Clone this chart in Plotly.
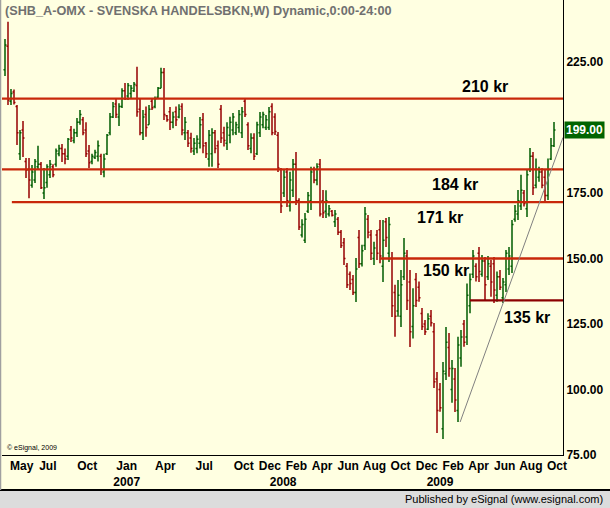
import pandas as pd
import plotly.graph_objects as go

# ---------------- data ----------------
start_date = "2006-03-31"
n_weeks = 184

opens = [222, 231, 210, 213.5, 208, 190, 199, 187, 184, 178, 180, 185, 186, 175, 179, 182, 185, 186, 190, 192,
         190, 189, 199, 195, 198, 202, 203, 199, 191, 187, 188.5, 189, 189, 183, 190, 198, 204, 209, 204, 208,
         214, 212, 213, 214, 216, 207, 198, 205, 201, 210, 208, 211.5, 215, 221, 204.5, 206, 202, 206, 204, 208,
         198, 198, 196, 191, 192, 194, 203, 194, 188, 190, 198, 193, 207, 198, 194, 197, 199, 198, 200, 198,
         210, 201, 192, 196, 190, 198, 201, 200, 200, 208, 204, 197, 184, 175, 183, 170, 176, 186, 172, 159,
         157, 168, 172, 184, 180, 186, 172, 168, 167, 168, 164, 165, 160, 156, 147, 144, 142, 137, 158, 148,
         155, 165, 159, 150, 159, 161, 147, 164, 152, 150, 137, 130, 128, 143, 151, 141, 124, 142, 139, 129,
         125, 123, 128, 122, 104, 100, 85, 106, 116, 100, 104, 92, 112, 125, 120, 132, 144, 147, 152, 144,
         149, 143, 147, 148, 136, 143, 135, 140, 146, 147, 165, 167, 170, 175, 169, 184, 189, 178, 181, 183,
         181, 174, 188, 193]
highs = [233.8, 240.4, 214.7, 214.5, 208.6, 199, 202.5, 188.4, 188.4, 185.7, 188, 193, 186.8, 184.5, 186, 187.6, 186, 192, 193.4, 193.7,
         192, 196, 200.6, 199.5, 203.6, 206.7, 204, 202, 193.3, 190, 191.5, 195, 190, 190, 197.5, 205.5, 209.7, 211.3, 209.3, 215,
         217, 217, 216.2, 217.4, 223.2, 211, 206.7, 208, 208.6, 211.3, 211.8, 215.5, 222.8, 222.7, 204.8, 207.8, 206, 208, 208.9, 209.3,
         204, 199, 198, 196, 197, 204, 205.5, 194.5, 199, 199.7, 199, 195, 208.6, 200.3, 202, 204.1, 205.5, 202.2, 206.7, 207.8,
         210.9, 202, 197.8, 197.8, 202.2, 205.9, 206, 204.8, 207.8, 209.3, 205.4, 198.3, 184.5, 183.8, 184.5, 183.1, 188, 190.6, 173, 165,
         167.4, 175.4, 185, 185, 186.4, 188, 176.1, 176, 170.4, 168.5, 168.5, 165.8, 160.9, 157.8, 148.3, 145, 143.7, 150.2, 160.9, 155.2,
         169.7, 166.6, 160.9, 156.4, 160.9, 164.7, 164.7, 165.5, 165.8, 152.5, 140, 141.8, 145.6, 157.8, 153.2, 145.6, 138.6, 144.5, 141.2, 131.1,
         126.5, 129.1, 130.3, 125.4, 106.7, 102.5, 110.5, 123.9, 121.6, 111.3, 108.2, 120.1, 122.7, 126.5, 140.5, 144.3, 153.2, 148.2, 154.4, 151.3,
         150.6, 151, 149.4, 150.6, 145, 145.6, 142.6, 153.2, 154.4, 164.7, 170.4, 176.1, 182, 176.1, 183.8, 192.2, 190.6, 188.2, 185, 184.4,
         183.8, 188.2, 196, 202.1]
lows = [219.7, 208.6, 208.6, 208.8, 193.3, 187.6, 188.7, 180.7, 173, 177, 178.8, 183.8, 176.5, 172.7, 177, 180.7, 181, 185, 189, 186.8,
        186, 187.6, 194.5, 194, 196.4, 201, 197, 188.7, 184.5, 186, 188, 187, 181.9, 181, 189.5, 197, 203.6, 203.6, 200.6, 207.4,
        210.5, 210.5, 211.3, 213.5, 204.1, 197, 195.2, 196.5, 201, 206.7, 207.3, 211, 215, 202.9, 202.2, 199, 199.7, 200.6, 203.5, 197,
        195.2, 192.6, 190.4, 189.5, 190.2, 192, 190.2, 188.4, 185, 185, 190.2, 184.5, 194.1, 192.7, 191.4, 194, 197, 197.1, 198, 196,
        204, 191.4, 190.2, 187.6, 189.5, 196.4, 199.7, 199, 199, 197, 197.1, 183, 167.4, 173.5, 169.7, 167.9, 173.5, 170.4, 160.9, 158,
        155.9, 167.4, 168.5, 178.7, 178, 166, 165.5, 165.5, 166, 166, 162, 159, 154, 147.5, 138.7, 138, 136.1, 133.4, 146.4, 146.9,
        153.2, 157.7, 149.4, 147.5, 149.4, 148.2, 141, 154.4, 148.7, 127.7, 120.1, 127.8, 123.9, 141.8, 130.3, 116.2, 119.5, 131.5, 133.5, 122.7,
        120.8, 122.7, 124, 100.6, 83.4, 91.5, 81.1, 103.6, 104.9, 94.9, 91.4, 87.6, 108.7, 116.3, 117, 129.1, 142.6, 141.2, 141, 143,
        134.2, 141.8, 135.4, 133, 133.5, 138, 133, 137.2, 143.7, 144.5, 164, 164.7, 168.5, 169.8, 165.8, 183, 174.2, 176.8, 179.3, 176.8,
        171.2, 172.3, 187.6, 192.6]
closes = [231.5, 210.5, 213, 209.5, 198, 198, 196, 183.8, 180, 183, 187, 186, 177, 177, 185, 186, 182, 191, 192, 190,
          188, 195.5, 196, 198, 202, 205, 198, 190, 186.5, 189, 190.5, 193, 184, 188, 197, 204, 208, 205, 208, 214,
          211, 216, 215, 216.5, 206, 198, 204, 200, 207, 207.5, 211, 215, 221, 205, 203, 202, 204, 203, 207, 199,
          202, 194, 192, 194, 195.5, 201, 193, 190, 197, 198, 192, 186, 196, 195, 200, 202, 204, 201, 205, 206,
          205, 193, 196, 189, 201, 204, 205, 203, 206, 198, 198.5, 184.5, 170, 181, 172, 180, 186, 172, 162, 163,
          165, 174, 183, 180, 185, 167, 167.5, 172, 169, 166.5, 167, 160, 155, 150, 140, 140.5, 137, 146, 148, 153,
          167, 160, 152, 154, 152, 151, 157, 158, 163, 132, 128, 136, 140, 152, 134, 122, 132, 134, 135, 124,
          122, 127, 125.5, 103, 92, 93, 107, 118, 108, 108, 96, 117, 120, 118, 136, 142, 151, 143, 145, 149,
          140, 148, 141, 138, 143, 139, 141, 152, 151, 163, 168, 172, 176, 171, 182, 189, 177, 184, 183, 178,
          174, 184, 193, 199]

level_values = [211, 184, 171.5, 150, 134]
level_starts = ["2006-03-24", "2006-03-24", "2006-04-16", "2008-08-22", "2009-03-20"]
level_labels = ["210 kr", "184 kr", "171 kr", "150 kr", "135 kr"]
level_colors = ["#C8280A", "#C8280A", "#C8280A", "#C8280A", "#8C0000"]

trend_dates = ["2009-02-25", "2009-10-23"]
trend_values = [87.6, 196.2]

tick_dates = ["2006-05-01", "2006-07-01", "2006-10-01", "2007-01-01", "2007-04-01", "2007-07-01",
              "2007-10-01", "2007-12-01", "2008-01-01", "2008-02-01", "2008-04-01", "2008-06-01",
              "2008-08-01", "2008-10-01", "2008-12-01", "2009-01-01", "2009-02-01", "2009-04-01",
              "2009-06-01", "2009-08-01", "2009-10-01"]
tick_text = ["May", "Jul", "Oct", "Jan<br>2007", "Apr", "Jul", "Oct", "Dec", " <br>2008", "Feb", "Apr",
             "Jun", "Aug", "Oct", "Dec", " <br>2009", "Feb", "Apr", "Jun", "Aug", "Oct"]
y_ticks = [75, 100, 125, 150, 175, 225]

# ---------------- figure ----------------
dates = pd.date_range(start=start_date, periods=n_weeks, freq="7D")
x_end = "2009-10-23"
FONT = "Liberation Sans"
BG = "#FFFFE1"
STRIP = "#DCDCDC"
PLOT_H = 455.0   # plot-area height in px
PLOT_W = 561.0   # plot-area width in px

# labels are drawn a little after the month start, as in eSignal
tick_pos = [pd.Timestamp(d) + pd.Timedelta(days=8) for d in tick_dates]

fig = go.Figure()
fig.add_trace(go.Ohlc(
    x=dates, open=opens, high=highs, low=lows, close=closes,
    increasing=dict(line=dict(color="#005C00", width=1.5)),
    decreasing=dict(line=dict(color="#960000", width=1.5)),
    tickwidth=0.5, showlegend=False, hoverinfo="skip"))

for val, st, col in zip(level_values, level_starts, level_colors):
    fig.add_trace(go.Scatter(x=[st, x_end], y=[val, val], mode="lines",
                             line=dict(color=col, width=2.3), showlegend=False, hoverinfo="skip"))

fig.add_trace(go.Scatter(x=trend_dates, y=trend_values, mode="lines",
                         line=dict(color="#808080", width=1), showlegend=False, hoverinfo="skip"))

# level labels
label_pos = [("2009-04-24", 215.8), ("2009-02-13", 178.4), ("2009-01-08", 165.8),
             ("2009-01-22", 145.6), ("2009-07-30", 127.3)]
for (lx, ly), txt in zip(label_pos, level_labels):
    fig.add_annotation(x=lx, y=ly, text=txt, showarrow=False,
                       font=dict(family=FONT, size=16, color="black", weight="bold"))

# last price box
fig.add_annotation(xref="paper", x=1, xanchor="left", xshift=1, yref="y", y=closes[-1],
                   text=f"{closes[-1]:.2f}", showarrow=False, bgcolor="#006400",
                   font=dict(family=FONT, size=12, color="white", weight="bold"),
                   borderpad=1)

# title
fig.add_annotation(xref="paper", yref="paper", x=0, y=1, xanchor="left", yanchor="top",
                   xshift=1, yshift=-2,
                   text="(SHB_A-OMX - SVENSKA HANDELSBKN,W) Dynamic,0:00-24:00", showarrow=False,
                   font=dict(family=FONT, size=12.7, color="#707070", weight="bold"))

# copyright
fig.add_annotation(xref="paper", yref="paper", x=0, y=0, xanchor="left", yanchor="bottom",
                   xshift=3, yshift=1, text="© eSignal, 2009", showarrow=False,
                   font=dict(family=FONT, size=7, color="black"))

# grey status strip across the bottom
fig.add_shape(type="rect", xref="paper", yref="paper", x0=-2 / PLOT_W, x1=1 + 47 / PLOT_W,
              y0=-53 / PLOT_H, y1=-35 / PLOT_H, fillcolor=STRIP,
              line=dict(width=0), layer="above")
fig.add_shape(type="line", xref="paper", yref="paper", x0=-2 / PLOT_W, x1=1 + 47 / PLOT_W,
              y0=-35 / PLOT_H, y1=-35 / PLOT_H, line=dict(color="black", width=2), layer="above")
fig.add_shape(type="line", xref="paper", yref="paper", x0=-1.5 / PLOT_W, x1=-1.5 / PLOT_W,
              y0=-35 / PLOT_H, y1=1, line=dict(color="#A0A0A0", width=1.5))
fig.add_annotation(xref="paper", yref="paper", x=1, y=-44 / PLOT_H, xanchor="right", yanchor="middle",
                   xshift=42, text="Published by eSignal (www.esignal.com)", showarrow=False,
                   font=dict(family=FONT, size=11, color="black"))

fig.update_layout(
    width=610, height=508,
    margin=dict(l=2, r=47, t=0, b=53),
    paper_bgcolor=BG, plot_bgcolor=BG,
    showlegend=False,
    xaxis=dict(type="date", range=["2006-03-24", x_end], rangeslider=dict(visible=False),
               showgrid=False, zeroline=False, showline=True, linecolor="black", linewidth=1,
               tickvals=tick_pos, ticktext=tick_text, ticks="", tickangle=0, automargin=False,
               tickfont=dict(family=FONT, size=12, color="black", weight="bold")),
    yaxis=dict(side="right", range=[75, 248.66], showgrid=False, zeroline=False,
               showline=True, linecolor="black", linewidth=1, automargin=False,
               tickvals=y_ticks, tickformat=".2f", ticks="",
               tickfont=dict(family=FONT, size=12, color="black", weight="bold")),
)

fig.write_html("out.html")
